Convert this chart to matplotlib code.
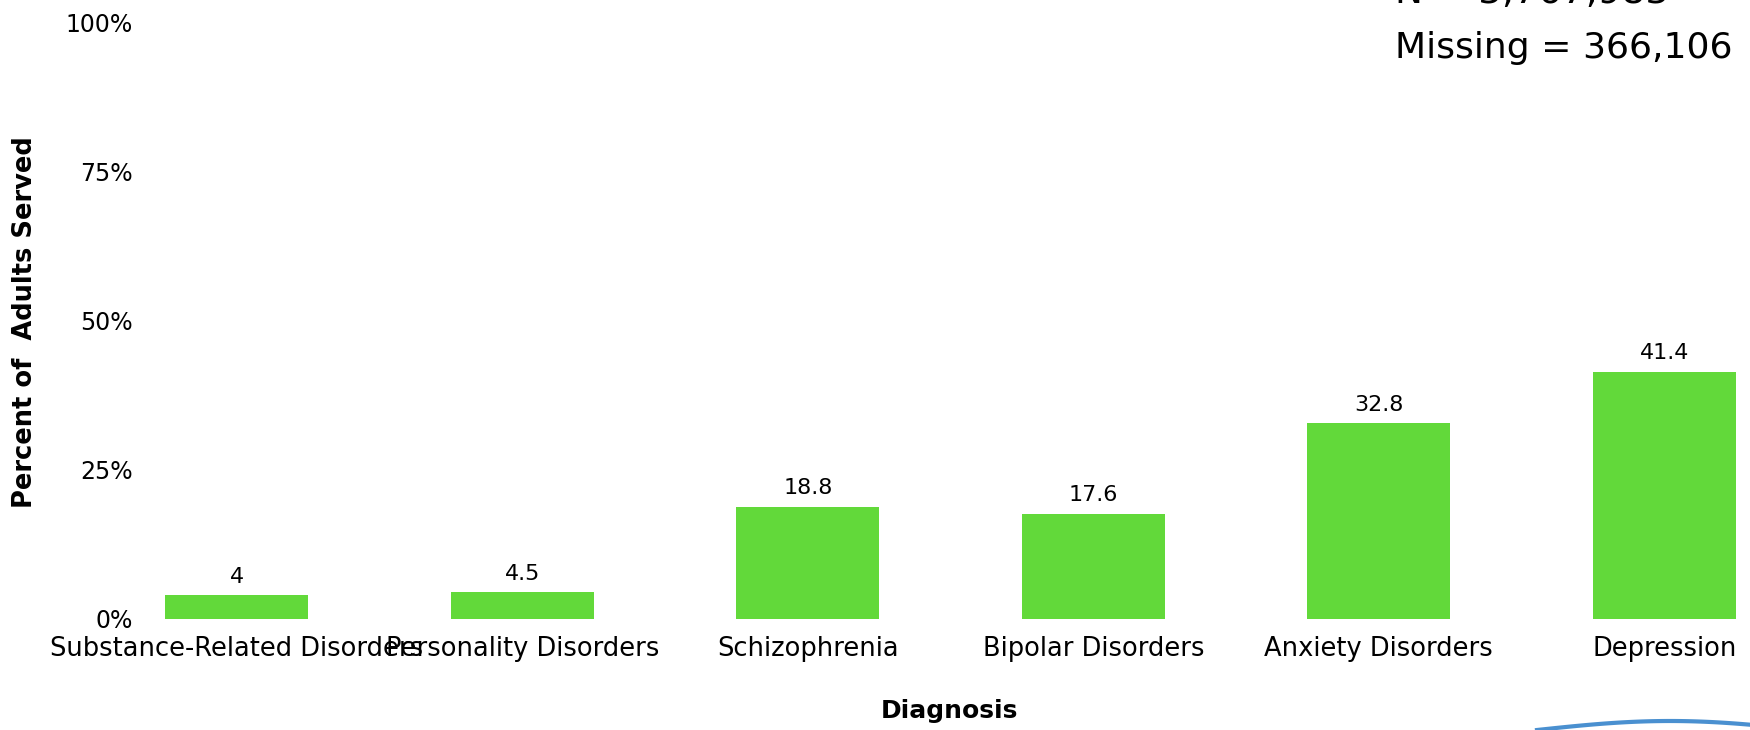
import matplotlib.pyplot as plt
import numpy as np

# Diagnosis share of adults served
diagnoses = ['Substance-Related Disorders', 'Personality Disorders', 'Schizophrenia',
             'Bipolar Disorders', 'Anxiety Disorders', 'Depression']
percent = [4, 4.5, 18.8, 17.6, 32.8, 41.4]
value_labels = ['4', '4.5', '18.8', '17.6', '32.8', '41.4']
y_ticks = [0, 25, 50, 75, 100]
y_tick_labels = ['0%', '25%', '50%', '75%', '100%']

fig = plt.figure(figsize=(17.5, 7.3), dpi=100)
ax = fig.add_axes([94 / 1750, 1 - 619 / 730, 1 - 94 / 1750, 597 / 730])

x = np.arange(len(diagnoses))
bars = ax.bar(x, percent, width=0.5, color='#62D93A')
for xi, v, lab in zip(x, percent, value_labels):
    ax.text(xi, v + 2.1, lab, ha='center', va='baseline', fontsize=16)

ax.set_xlim(-0.5, 5.3)
ax.set_ylim(0, 100)
ax.set_xticks(x)
ax.set_xticklabels(diagnoses, fontsize=18.5)
ax.set_yticks(y_ticks)
ax.set_yticklabels(y_tick_labels, fontsize=17)
ax.tick_params(length=0)
ax.tick_params(axis='x', pad=12)
ax.tick_params(axis='y', pad=-28)
for s in ax.spines.values():
    s.set_visible(False)
ax.patch.set_alpha(0)

fig.text(25 / 1750, 1 - 322 / 730, 'Percent of  Adults Served', rotation=90,
         ha='center', va='center', fontsize=18.5, fontweight='bold')
fig.text(949 / 1750, 1 - 711 / 730, 'Diagnosis', ha='center', va='center',
         fontsize=18, fontweight='bold')

fig.text(1395 / 1750, 1 - 3 / 730, 'N = 3,767,983', ha='left', va='baseline', fontsize=27)
fig.text(1395 / 1750, 1 - 58 / 730, 'Missing = 366,106', ha='left', va='baseline', fontsize=26)

# blue swoosh of the logo in the corner
t = np.linspace(0, 1, 60)
sx = 1537 + 213 * t
sy = 730 - 9 * np.sin(np.pi * 0.8 * t)
fig.add_artist(plt.Line2D(sx / 1750, 1 - sy / 730, color='#4A90D0', lw=3,
                          transform=fig.transFigure))

plt.savefig('out.png', dpi=100)
